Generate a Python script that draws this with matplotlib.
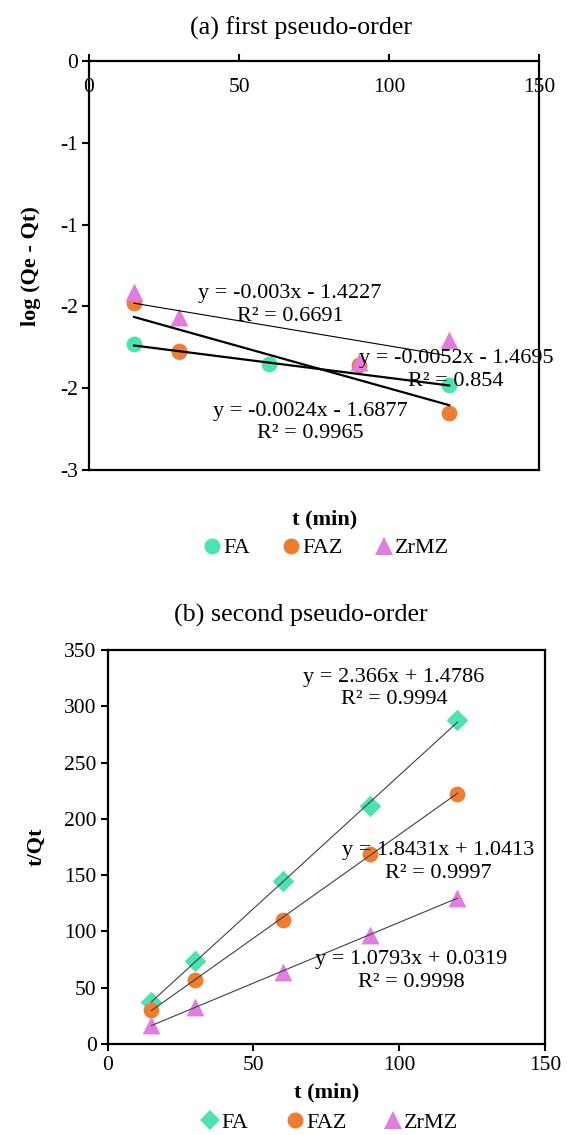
import numpy as np
import matplotlib
matplotlib.use("Agg")
import matplotlib.pyplot as plt
from matplotlib.ticker import FuncFormatter
from matplotlib.lines import Line2D

plt.rcParams['font.family'] = ['Liberation Serif', 'DejaVu Serif']

# (a) first pseudo-order: log(Qe - Qt) vs t
t_fa_a = [15, 30, 60, 120]
log_fa = [-1.73, -1.78, -1.85, -1.98]
t_faz_a = [15, 30, 90, 120]
log_faz = [-1.48, -1.77, -1.86, -2.15]
t_zr_a = [15, 30, 90, 120]
log_zr = [-1.41, -1.565, -1.84, -1.705]
eq_a = {
    "FA": "y = -0.0024x - 1.6877\nR² = 0.9965",
    "FAZ": "y = -0.0052x - 1.4695\nR² = 0.854",
    "ZrMZ": "y = -0.003x - 1.4227\nR² = 0.6691",
}

# (b) second pseudo-order: t/Qt vs t
t_b = [15, 30, 60, 90, 120]
tq_fa = [37, 74, 145, 211, 288]
tq_faz = [30.5, 57, 110.5, 169, 222.5]
tq_zr = [16.5, 33, 64, 97, 130]
eq_b = {
    "FA": "y = 2.366x + 1.4786\nR² = 0.9994",
    "FAZ": "y = 1.8431x + 1.0413\nR² = 0.9997",
    "ZrMZ": "y = 1.0793x + 0.0319\nR² = 0.9998",
}

GREEN = "#4CE2B2"
ORANGE = "#ED7D31"
PINK = "#E27DE0"

FS = 16      # equations, axis labels, legend
FS_TICK = 15.5
FS_TITLE = 18.8
LS = 1.25


def trend(ax, x, y, color, lw):
    k, b = np.polyfit(x, y, 1)
    xs = np.array([min(x), max(x)])
    ax.plot(xs, k * xs + b, color=color, lw=lw, zorder=4)


def excel_round(v, pos):
    return "%d" % int(np.sign(v) * np.floor(abs(v) + 0.5))


fig = plt.figure(figsize=(5.67, 11.35), dpi=100)

# ---------- top chart ----------
ax1 = fig.add_axes([0.157, 0.586, 0.794, 0.360])
ax1.scatter(t_fa_a, log_fa, s=130, marker="o", color=GREEN, lw=0, zorder=2)
ax1.scatter(t_faz_a, log_faz, s=130, marker="o", color=ORANGE, lw=0, zorder=2.1)
ax1.scatter(t_zr_a, log_zr, s=165, marker="^", color=PINK, lw=0, zorder=2.2)
trend(ax1, t_fa_a, log_fa, "black", 1.6)
trend(ax1, t_faz_a, log_faz, "black", 1.6)
trend(ax1, t_zr_a, log_zr, "black", 0.8)

ax1.set_xlim(0, 150)
ax1.set_ylim(-2.5, 0)
ax1.set_xticks([0, 50, 100, 150])
ax1.set_yticks(np.arange(0, -2.51, -0.5))
ax1.yaxis.set_major_formatter(FuncFormatter(excel_round))
ax1.xaxis.set_ticks_position("top")
ax1.tick_params(axis="x", direction="out", length=5, width=1.5,
                labelsize=FS_TICK, pad=-31)
ax1.tick_params(axis="y", direction="out", length=5, width=1.5,
                labelsize=FS_TICK, pad=3)
for sp in ax1.spines.values():
    sp.set_linewidth(1.6)

ax1.text(67, -1.49, eq_a["ZrMZ"], ha="center", va="center", fontsize=FS,
         linespacing=LS, zorder=5)
ax1.text(122.3, -1.89, eq_a["FAZ"], ha="center", va="center", fontsize=FS,
         linespacing=LS, zorder=5, clip_on=False)
ax1.text(73.7, -2.21, eq_a["FA"], ha="center", va="center", fontsize=FS,
         linespacing=LS, zorder=5)

ax1.set_ylabel("log (Qe - Qt)", fontsize=FS, fontweight="bold", labelpad=14)
fig.text(0.573, 0.542, "t (min)", ha="center", va="center", fontsize=FS,
         fontweight="bold")
fig.text(0.53, 0.975, "(a) first pseudo-order", ha="center", va="center",
         fontsize=FS_TITLE)

h1 = [Line2D([], [], ls="", marker="o", ms=11.5, color=GREEN, mew=0),
      Line2D([], [], ls="", marker="o", ms=11.5, color=ORANGE, mew=0),
      Line2D([], [], ls="", marker="^", ms=12.5, color=PINK, mew=0)]
fig.legend(h1, ["FA", "FAZ", "ZrMZ"], loc="center", ncol=3, frameon=False,
           bbox_to_anchor=(0.573, 0.517), fontsize=FS, handletextpad=0.0,
           columnspacing=1.35, handlelength=1.0)

# ---------- bottom chart ----------
ax2 = fig.add_axes([0.190, 0.0802, 0.771, 0.3471])
ax2.scatter(t_b, tq_fa, s=120, marker="D", color=GREEN, lw=0, zorder=2)
ax2.scatter(t_b, tq_faz, s=130, marker="o", color=ORANGE, lw=0, zorder=2.1)
ax2.scatter(t_b, tq_zr, s=165, marker="^", color=PINK, lw=0, zorder=2.2)
trend(ax2, t_b, tq_fa, "#404040", 0.8)
trend(ax2, t_b, tq_faz, "#404040", 0.8)
trend(ax2, t_b, tq_zr, "#404040", 0.8)

ax2.set_xlim(0, 150)
ax2.set_ylim(0, 350)
ax2.set_xticks([0, 50, 100, 150])
ax2.set_yticks(np.arange(0, 351, 50))
ax2.tick_params(direction="out", length=5, width=1.5, labelsize=FS_TICK,
                pad=3)
ax2.tick_params(axis="x", pad=4)
for sp in ax2.spines.values():
    sp.set_linewidth(1.6)

ax2.text(98.2, 316, eq_b["FA"], ha="center", va="center", fontsize=FS,
         linespacing=LS, zorder=5)
ax2.text(113.3, 161.6, eq_b["FAZ"], ha="center", va="center", fontsize=FS,
         linespacing=LS, zorder=5)
ax2.text(104, 64.8, eq_b["ZrMZ"], ha="center", va="center", fontsize=FS,
         linespacing=LS, zorder=5)

ax2.set_ylabel("t/Qt", fontsize=FS, fontweight="bold", labelpad=13)
ax2.set_xlabel("t (min)", fontsize=FS, fontweight="bold", labelpad=5)
fig.text(0.53, 0.458, "(b) second pseudo-order", ha="center", va="center",
         fontsize=FS_TITLE)

h2 = [Line2D([], [], ls="", marker="D", ms=10.5, color=GREEN, mew=0),
      Line2D([], [], ls="", marker="o", ms=11.5, color=ORANGE, mew=0),
      Line2D([], [], ls="", marker="^", ms=12.5, color=PINK, mew=0)]
fig.legend(h2, ["FA", "FAZ", "ZrMZ"], loc="center", ncol=3, frameon=False,
           bbox_to_anchor=(0.58, 0.011), fontsize=FS, handletextpad=0.0,
           columnspacing=1.6, handlelength=1.0)

fig.savefig("out.png", dpi=100)
